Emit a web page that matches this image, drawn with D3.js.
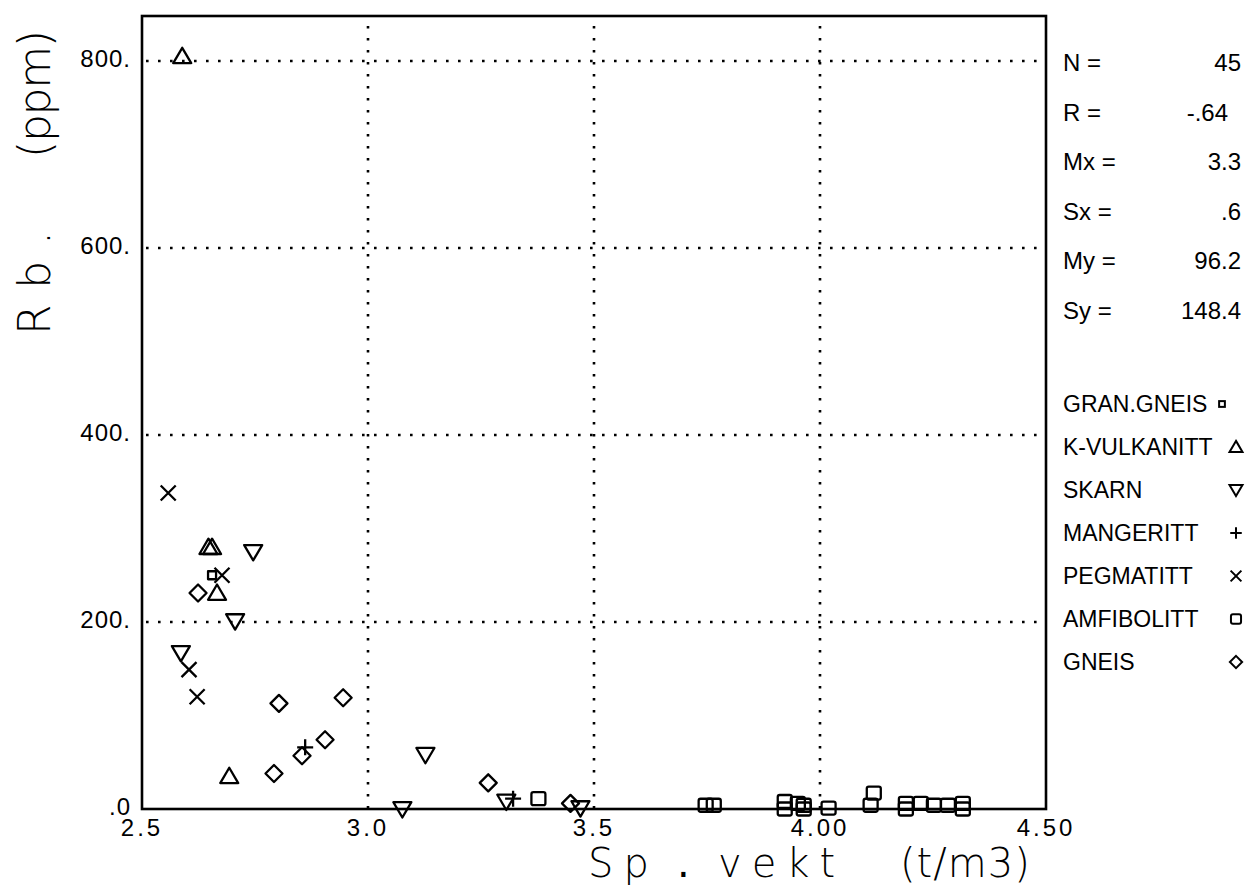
<!DOCTYPE html>
<html>
<head>
<meta charset="utf-8">
<script src="https://cdn.jsdelivr.net/npm/d3@7"></script>
<style>
  html, body { margin: 0; padding: 0; background: #fff; }
  svg { display: block; }
  text { fill: #000; }
</style>
</head>
<body>
<svg id="chart" width="1251" height="886"></svg>
<script>
// Rb (ppm) against specific gravity (t/m3), by rock type
const xGrid = [3.0, 3.5, 4.0];
const xTickValues = [2.5, 3.0, 3.5, 4.0, 4.5];
const xTickLabels = ["2.5", "3.0", "3.5", "4.00", "4.50"];
const yTickValues = [0, 200, 400, 600, 800];
const yTickLabels = [".0", "200.", "400.", "600.", "800."];

const granGneisX = [2.655];
const granGneisY = [250];
const kVulkX = [2.589, 2.647, 2.655, 2.666, 2.693];
const kVulkY = [805, 280, 280, 231, 35];
const skarnX = [2.746, 2.706, 2.586, 3.127, 3.076, 3.306, 3.470];
const skarnY = [275, 201, 167, 58, 0, 8, 1];
const mangerX = [2.861, 3.321];
const mangerY = [66, 11];
const pegmaX = [2.558, 2.677, 2.604, 2.622];
const pegmaY = [338, 250, 149, 120];
const amfiX = [3.377, 3.747, 3.765, 3.922, 3.922, 3.951, 3.964, 3.964, 4.019,
               4.119, 4.112, 4.190, 4.190, 4.223, 4.252, 4.283, 4.316, 4.316];
const amfiY = [11, 4, 4, 8, 0, 6, 4, 0, 1, 17, 4, 6, 0, 6, 4, 4, 6, 0];
const gneisX = [2.624, 2.803, 2.945, 2.905, 2.854, 2.792, 3.266, 3.448];
const gneisY = [231, 113, 119, 74, 57, 38, 28, 6];

const statLabels = ["N =", "R =", "Mx =", "Sx =", "My =", "Sy ="];
const statValues = ["45", "-.64", "3.3", ".6", "96.2", "148.4"];
const legendNames = ["GRAN.GNEIS", "K-VULKANITT", "SKARN", "MANGERITT", "PEGMATITT", "AMFIBOLITT", "GNEIS"];
const legendSymbols = ["smallsquare", "triangle", "invtriangle", "plus", "cross", "square", "diamond"];

const series = [
  { xs: granGneisX, ys: granGneisY, sym: "smallsquare" },
  { xs: kVulkX, ys: kVulkY, sym: "triangle" },
  { xs: skarnX, ys: skarnY, sym: "invtriangle" },
  { xs: mangerX, ys: mangerY, sym: "plus" },
  { xs: pegmaX, ys: pegmaY, sym: "cross" },
  { xs: amfiX, ys: amfiY, sym: "square" },
  { xs: gneisX, ys: gneisY, sym: "diamond" }
];

const svg = d3.select("#chart");
const FONT = "'Liberation Sans', Arial, sans-serif";
const TITLE_FONT = "'DejaVu Sans', sans-serif";

const plotLeft = 142, plotRight = 1046, plotTop = 16, plotBottom = 809;
const x = d3.scaleLinear().domain([2.5, 4.5]).range([plotLeft, plotRight]);
const y = d3.scaleLinear().domain([0, 800]).range([plotBottom, 61]);

// dotted grid
const grid = svg.append("g")
  .attr("stroke", "#000").attr("stroke-width", 2.6)
  .attr("stroke-dasharray", "2.6 9.4").attr("fill", "none");
grid.selectAll("line.h").data(yTickValues.filter(v => v > 0)).join("line")
  .attr("class", "h")
  .attr("x1", plotLeft + 4).attr("x2", plotRight)
  .attr("y1", d => y(d)).attr("y2", d => y(d));
grid.selectAll("line.v").data(xGrid).join("line")
  .attr("class", "v")
  .attr("x1", d => x(d)).attr("x2", d => x(d))
  .attr("y1", plotTop + 10).attr("y2", plotBottom);

// frame
svg.append("rect")
  .attr("x", plotLeft).attr("y", plotTop)
  .attr("width", plotRight - plotLeft).attr("height", plotBottom - plotTop)
  .attr("fill", "none").attr("stroke", "#000").attr("stroke-width", 2.6);

// tick labels
svg.append("g").selectAll("text").data(xTickValues).join("text")
  .attr("x", d => x(d)).attr("y", plotBottom + 27)
  .attr("text-anchor", "middle")
  .attr("font-family", FONT).attr("font-size", 24)
  .attr("letter-spacing", 3)
  .text((d, i) => xTickLabels[i]);
svg.append("g").selectAll("text").data(yTickValues).join("text")
  .attr("x", plotLeft - 11).attr("y", d => y(d) + 6)
  .attr("text-anchor", "end")
  .attr("font-family", FONT).attr("font-size", 24)
  .attr("letter-spacing", 1)
  .text((d, i) => yTickLabels[i]);

// axis titles
const xTitle = svg.append("g")
  .attr("font-family", TITLE_FONT).attr("font-weight", 200).attr("font-size", 40);
xTitle.append("text").attr("x", 588).attr("y", 877).attr("letter-spacing", 10).text("Sp");
xTitle.append("text").attr("x", 677).attr("y", 877).attr("font-weight", 400).text(".");
xTitle.append("text").attr("x", 718).attr("y", 877).attr("letter-spacing", 10).text("vekt");
xTitle.append("text").attr("x", 900).attr("y", 877).attr("letter-spacing", 1).text("(t/m3)");

const yTitle = svg.append("g")
  .attr("font-family", TITLE_FONT).attr("font-weight", 200).attr("font-size", 44);
yTitle.append("text").attr("transform", "translate(50,335) rotate(-90)")
  .attr("textLength", 104).attr("lengthAdjust", "spacing").text("Rb.");
yTitle.append("text").attr("transform", "translate(50,158) rotate(-90)")
  .attr("textLength", 128).attr("lengthAdjust", "spacing").text("(ppm)");

// marker shapes
function drawSymbol(g, sym, cx, cy, s) {
  const k = s || 1;
  if (sym === "square") {
    g.append("rect").attr("x", cx - 7 * k).attr("y", cy - 6.5 * k)
      .attr("width", 14 * k).attr("height", 13 * k).attr("rx", 2);
  } else if (sym === "smallsquare") {
    g.append("rect").attr("x", cx - 4 * k).attr("y", cy - 4 * k)
      .attr("width", 8 * k).attr("height", 8 * k);
  } else if (sym === "triangle") {
    const h = 8.5 * k;
    g.append("path").attr("d", `M${cx},${cy - h}L${cx + 9 * k},${cy + h * 0.8}L${cx - 9 * k},${cy + h * 0.8}Z`);
  } else if (sym === "invtriangle") {
    const h = 8.5 * k;
    g.append("path").attr("d", `M${cx - 9 * k},${cy - h * 0.8}L${cx + 9 * k},${cy - h * 0.8}L${cx},${cy + h}Z`);
  } else if (sym === "plus") {
    const a = 8 * k;
    g.append("path").attr("d", `M${cx - a},${cy}H${cx + a}M${cx},${cy - a}V${cy + a}`);
  } else if (sym === "cross") {
    const a = 7.5 * k;
    g.append("path").attr("d", `M${cx - a},${cy - a}L${cx + a},${cy + a}M${cx - a},${cy + a}L${cx + a},${cy - a}`);
  } else if (sym === "diamond") {
    const a = 8.5 * k;
    g.append("path").attr("d", `M${cx},${cy - a}L${cx + a},${cy}L${cx},${cy + a}L${cx - a},${cy}Z`);
  }
}

const marks = svg.append("g")
  .attr("fill", "none").attr("stroke", "#000").attr("stroke-width", 2.3)
  .attr("stroke-linejoin", "round");
series.forEach(s => {
  s.xs.forEach((xv, i) => drawSymbol(marks, s.sym, x(xv), y(s.ys[i])));
});

// statistics block
const stats = svg.append("g").attr("font-family", FONT).attr("font-size", 24);
statLabels.forEach((lab, i) => {
  const ty = 71 + i * 49.5;
  stats.append("text").attr("x", 1063).attr("y", ty).text(lab);
  const v = statValues[i];
  stats.append("text").attr("x", v.startsWith("-") ? 1228 : 1241).attr("y", ty)
    .attr("text-anchor", "end").text(v);
});

// legend
const legend = svg.append("g").attr("font-family", FONT).attr("font-size", 23);
const legendMarks = svg.append("g")
  .attr("fill", "none").attr("stroke", "#000").attr("stroke-width", 2);
legendNames.forEach((name, i) => {
  const ty = 412 + i * 43;
  legend.append("text").attr("x", 1063).attr("y", ty).text(name);
  const mx = legendSymbols[i] === "smallsquare" ? 1222 : 1236;
  drawSymbol(legendMarks, legendSymbols[i], mx, ty - 8, 0.72);
});
</script>
</body>
</html>
